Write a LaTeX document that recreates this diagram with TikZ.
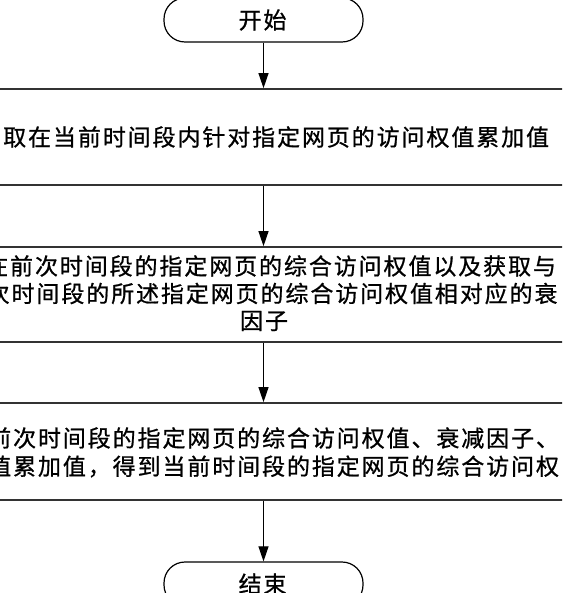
\documentclass[tikz,border=0pt]{standalone}
\usepackage{fontspec}
\setmainfont[FakeBold=0.8]{Noto Sans CJK SC}
\usetikzlibrary{arrows.meta}
\newlength\lsk \setlength\lsk{1.9pt}
\def\lsp#1{\lspA#1\relax}
\def\lspA#1{\ifx\relax#1\else#1\kern\lsk\expandafter\lspA\fi}
\tikzset{
  pill/.style={draw=black, line width=1.2pt, rounded corners=21pt, minimum width=199pt, minimum height=44pt, inner sep=0pt, font=\fontsize{23pt}{27pt}\selectfont},
  stepbox/.style={draw=black!80, line width=1.7pt, minimum width=660pt, inner sep=0pt},
  txt/.style={inner sep=0pt, font=\fontsize{23pt}{27pt}\selectfont, anchor=west},
  flow/.style={line width=1pt, -{Triangle[length=15pt,width=10pt]}}
}
\begin{document}
\begin{tikzpicture}[x=1pt,y=1pt]
\useasboundingbox (0,0) rectangle (562,-593);
\clip (0,0) rectangle (562,-593);
\fill[white] (0,0) rectangle (562,-593);
\node[pill] (start) at (263.5,-20) {\lsp{开始}};
\node[stepbox, minimum height=96pt] (b1) at (263.5,-137) {};
\node[stepbox, minimum height=95pt] (b2) at (263.5,-294.5) {};
\node[stepbox, minimum height=97pt] (b3) at (263.5,-451.5) {};
\node[pill] (end) at (263.5,-584) {\lsp{结束}};
\node[txt] (t1) at (3,-137) {\lsp{取在当前时间段内针对指定网页的访问权值累加值}};
\node[txt] (t2a) at (-15,-266) {\lsp{在前次时间段的指定网页的综合访问权值以及获取与}};
\node[txt] (t2b) at (-13.5,-293.5) {\lsp{次时间段的所述指定网页的综合访问权值相对应的衰}};
\node[txt, anchor=center] (t2c) at (265,-321) {\lsp{因子}};
\node[txt] (t3a) at (-12,-438) {\lsp{前次时间段的指定网页的综合访问权值、衰减因子、}};
\node[txt] (t3b) at (-12,-466.5) {\lsp{值累加值，得到当前时间段的指定网页的综合访问权}};
\draw[flow] (start.south) -- (b1.north);
\draw[flow] (b1.south) -- (b2.north);
\draw[flow] (b2.south) -- (b3.north);
\draw[flow] (b3.south) -- (end.north);
\end{tikzpicture}
\end{document}
